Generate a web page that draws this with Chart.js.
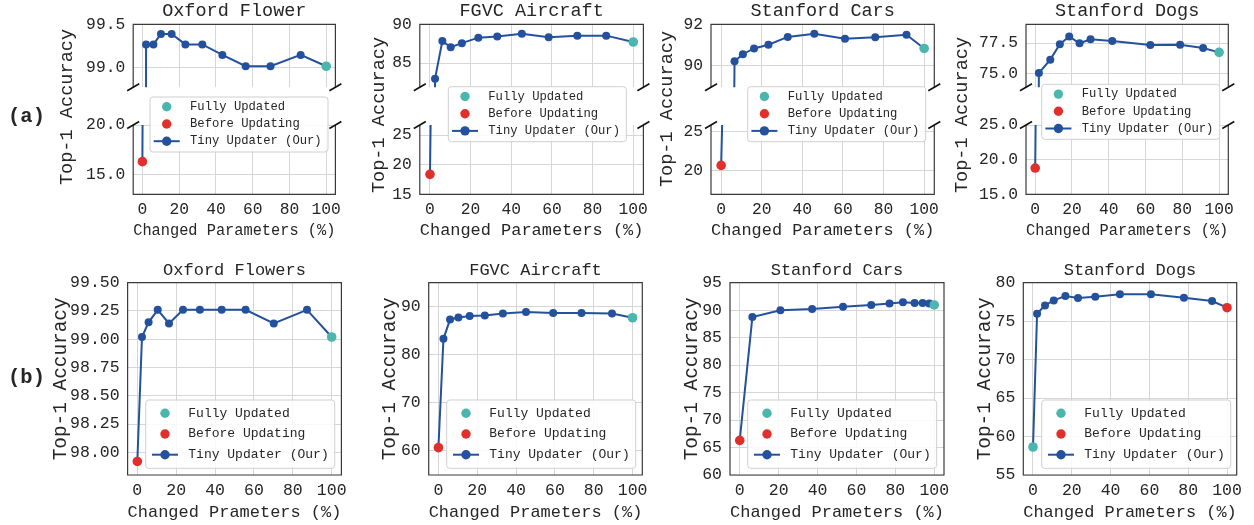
<!DOCTYPE html>
<html>
<head>
<meta charset="utf-8">
<script src="https://cdn.jsdelivr.net/npm/chart.js@4.4.1/dist/chart.umd.min.js"></script>
<style>
  html, body { margin: 0; padding: 0; background: #fff; }
  #fig { position: relative; width: 1254px; height: 525px; overflow: hidden; background: #fff; }
  #fig canvas { position: absolute; }
</style>
</head>
<body>
<div id="fig"></div>
<script>
// shared x ticks (changed parameters, %)
const xTicks = [0, 20, 40, 60, 80, 100];

// ---- row (a): broken y axis ----
const aFlowerX = [2.0, 6.0, 10.1, 15.9, 23.4, 32.6, 43.5, 56.2, 69.7, 86.1];
const aFlowerY = [99.27, 99.27, 99.39, 99.39, 99.27, 99.27, 99.15, 99.02, 99.02, 99.15];
const aFlowerFull = [100, 99.02];
const aFlowerBefore = [0, 16.3];
const aFlowerTopTicks = [99.0, 99.5];
const aFlowerBotTicks = [15.0, 20.0];

const aAirX = [2.5, 6.1, 10.2, 15.7, 23.8, 33.1, 45.2, 58.4, 72.5, 86.7];
const aAirY = [83.0, 87.84, 87.05, 87.57, 88.28, 88.43, 88.77, 88.32, 88.54, 88.54];
const aAirFull = [100, 87.72];
const aAirBefore = [0, 18.37];
const aAirTopTicks = [85, 90];
const aAirBotTicks = [15, 20, 25];

const aCarsX = [6.6, 10.7, 16.2, 23.3, 32.8, 45.9, 61.0, 75.9, 91.3];
const aCarsY = [90.21, 90.55, 90.83, 91.01, 91.39, 91.54, 91.30, 91.37, 91.49];
const aCarsFull = [100, 90.83];
const aCarsBefore = [0, 20.67];
const aCarsTopTicks = [90, 92];
const aCarsBotTicks = [20, 25];

const aDogsX = [2.0, 8.2, 13.4, 18.5, 24.1, 30.1, 41.9, 62.6, 78.8, 91.3];
const aDogsY = [75.02, 76.13, 77.40, 78.05, 77.48, 77.81, 77.67, 77.33, 77.36, 77.09];
const aDogsFull = [100, 76.73];
const aDogsBefore = [0, 18.79];
const aDogsTopTicks = [75.0, 77.5];
const aDogsBotTicks = [15.0, 20.0, 25.0];

// ---- row (b) ----
const bFlowerX = [2.4, 5.8, 10.5, 16.3, 23.5, 32.2, 43.4, 55.7, 70.2, 87.3];
const bFlowerY = [99.02, 99.15, 99.26, 99.14, 99.26, 99.26, 99.26, 99.26, 99.14, 99.26];
const bFlowerFull = [100, 99.02];
const bFlowerBefore = [0, 97.92];
const bFlowerTicks = [98.0, 98.25, 98.5, 98.75, 99.0, 99.25, 99.5];

const bAirX = [2.6, 6.0, 10.3, 16.1, 23.9, 33.2, 45.1, 59.1, 73.7, 89.4];
const bAirY = [83.33, 87.36, 87.78, 88.06, 88.19, 88.61, 88.89, 88.68, 88.68, 88.61];
const bAirFull = [100, 87.71];
const bAirBefore = [0, 60.69];
const bAirTicks = [60, 70, 80, 90];

const bCarsX = [6.5, 20.9, 37.2, 53.1, 67.6, 77.0, 83.9, 89.9, 94.0, 97.4];
const bCarsY = [88.75, 89.97, 90.21, 90.63, 90.92, 91.2, 91.45, 91.3, 91.3, 91.22];
const bCarsFull = [100, 90.95];
const bCarsBefore = [0, 66.3];
const bCarsTicks = [60, 65, 70, 75, 80, 85, 90, 95];

const bDogsX = [2.1, 6.2, 10.7, 16.7, 23.2, 32.1, 44.8, 60.8, 77.8, 92.3];
const bDogsY = [75.97, 77.05, 77.70, 78.27, 78.01, 78.18, 78.49, 78.49, 78.05, 77.62];
const bDogsFull = [0, 58.64];
const bDogsBefore = [100, 76.75];
const bDogsTicks = [55, 60, 65, 70, 75, 80];

const BLUE = '#24519d', CYAN = '#4bb6ae', RED = '#e1302b';
const GRID = '#d6d6d6', SPINE = '#3a3a3a', INK = '#262626';
const MONO = "'Liberation Mono', 'DejaVu Sans Mono', monospace";

Chart.defaults.font.family = MONO;
Chart.defaults.color = INK;

const fig = document.getElementById('fig');

function pt(a) { return { x: a[0], y: a[1] }; }

function drawLegend(chart, lg, ox, oy) {
  const ctx = chart.ctx;
  const x = lg.x - ox, y = lg.y - oy;
  ctx.save();
  ctx.beginPath();
  ctx.roundRect(x, y, lg.w, lg.h, 3);
  ctx.fillStyle = 'rgba(255,255,255,0.85)';
  ctx.fill();
  ctx.strokeStyle = '#cfcfcf';
  ctx.lineWidth = 1;
  ctx.stroke();
  ctx.font = lg.fs + 'px ' + MONO;
  ctx.textBaseline = 'middle';
  chart.data.datasets.forEach((ds, i) => {
    const cy = y + lg.first + i * lg.row, mx = x + lg.mx;
    if (ds.showLine !== false) {
      ctx.strokeStyle = ds.borderColor;
      ctx.lineWidth = 2;
      ctx.beginPath();
      ctx.moveTo(mx - 13, cy);
      ctx.lineTo(mx + 13, cy);
      ctx.stroke();
    }
    ctx.fillStyle = ds.pointBackgroundColor;
    ctx.beginPath();
    ctx.arc(mx, cy, 4.7, 0, Math.PI * 2);
    ctx.fill();
    ctx.fillStyle = INK;
    ctx.fillText(ds.label, x + lg.tx, cy);
  });
  ctx.restore();
}

// spines, break marks, legend and loose texts
function deco(p) {
  return {
    id: 'deco',
    afterDatasetsDraw(chart) {
      const { ctx, chartArea: a } = chart;
      ctx.save();
      ctx.strokeStyle = SPINE;
      ctx.lineWidth = 1.2;
      ctx.beginPath();
      if (p.spines === 'top') {
        ctx.moveTo(a.left, a.bottom); ctx.lineTo(a.left, a.top);
        ctx.lineTo(a.right, a.top); ctx.lineTo(a.right, a.bottom);
      } else if (p.spines === 'bottom') {
        ctx.moveTo(a.left, a.top); ctx.lineTo(a.left, a.bottom);
        ctx.lineTo(a.right, a.bottom); ctx.lineTo(a.right, a.top);
      } else {
        ctx.rect(a.left, a.top, a.right - a.left, a.bottom - a.top);
      }
      ctx.stroke();
      ctx.restore();
    },
    afterDraw(chart) {
      const { ctx, chartArea: a } = chart;
      ctx.save();
      if (p.breaks) {
        const yb = p.breaks === 'bottom' ? a.bottom : a.top;
        ctx.strokeStyle = '#111';
        ctx.lineWidth = 1.6;
        ctx.beginPath();
        [a.left, a.right].forEach(xb => {
          ctx.moveTo(xb - 6, yb + 3.5);
          ctx.lineTo(xb + 6, yb - 3.5);
        });
        ctx.stroke();
      }
      (p.texts || []).forEach(t => {
        ctx.save();
        ctx.fillStyle = INK;
        ctx.font = (t.weight || 'normal') + ' ' + t.size + 'px ' + MONO;
        ctx.textAlign = 'center';
        ctx.textBaseline = 'middle';
        ctx.translate(t.x - p.cx, t.y - p.cy);
        if (t.rotate) ctx.rotate(-Math.PI / 2);
        ctx.fillText(t.text, 0, 0);
        ctx.restore();
      });
      ctx.restore();
      if (p.legend) drawLegend(chart, p.legend, p.cx, p.cy);
    }
  };
}

function makeChart(p) {
  const cv = document.createElement('canvas');
  cv.width = p.cw; cv.height = p.ch;
  cv.style.left = p.cx + 'px'; cv.style.top = p.cy + 'px';
  cv.style.width = p.cw + 'px'; cv.style.height = p.ch + 'px';
  fig.appendChild(cv);

  const ml = p.L - p.cx, mr = p.cx + p.cw - p.R;
  const mt = p.T - p.cy, mb = p.cy + p.ch - p.B;

  const line = p.tinyX.map((x, i) => ({ x, y: p.tinyY[i] }))
    .concat([pt(p.full), pt(p.before)])
    .sort((a, b) => a.x - b.x);

  let title = { display: false };
  if (p.title) {
    const lh = p.titleSize * 1.2, padTop = p.titleY - p.cy - lh / 2;
    title = {
      display: true, text: p.title, fullSize: false, color: INK,
      font: { size: p.titleSize, weight: 'normal', lineHeight: 1.2 },
      padding: { top: padTop, bottom: mt - lh - padTop }
    };
  }

  return new Chart(cv, {
    type: 'line',
    data: {
      datasets: [
        { label: 'Fully Updated', data: [pt(p.full)], showLine: false, pointRadius: 4.8,
          pointBackgroundColor: CYAN, pointBorderWidth: 0, clip: 0 },
        { label: 'Before Updating', data: [pt(p.before)], showLine: false, pointRadius: 4.8,
          pointBackgroundColor: RED, pointBorderWidth: 0, clip: 0 },
        { label: 'Tiny Updater (Our)', data: line, borderColor: BLUE, borderWidth: 2,
          pointRadius: 4, pointBackgroundColor: BLUE, pointBorderWidth: 0, clip: 0 }
      ]
    },
    options: {
      responsive: false,
      animation: false,
      devicePixelRatio: 1,
      layout: { padding: { left: 0, right: mr, top: p.title ? 0 : mt, bottom: p.xTitle ? 0 : mb } },
      plugins: {
        legend: { display: false },
        tooltip: { enabled: false },
        title: title
      },
      scales: {
        x: {
          type: 'linear', min: -5, max: 105,
          afterBuildTicks: s => { s.ticks = xTicks.map(v => ({ value: v })); },
          afterFit: s => { s.height = p.xTitle ? mb : 0; },
          grid: { color: GRID, lineWidth: 1, drawTicks: false },
          border: { display: false },
          ticks: {
            display: !!p.xTitle, color: INK, maxRotation: 0, autoSkip: false,
            font: { size: p.tickSize, lineHeight: 1.2 },
            padding: p.xTitle ? p.xTickY - p.B - p.tickSize * 0.6 : 0
          },
          title: p.xTitle ? {
            display: true, text: p.xTitle, color: INK,
            font: { size: p.xTitleSize, lineHeight: 1.2 },
            padding: { top: 0, bottom: p.cy + p.ch - p.xTitleY - p.xTitleSize * 0.6 }
          } : { display: false }
        },
        y: {
          type: 'linear', min: p.yMin, max: p.yMax,
          afterBuildTicks: s => { s.ticks = p.yTicks.map(v => ({ value: v })); },
          afterFit: s => { s.width = ml; },
          grid: { color: GRID, lineWidth: 1, drawTicks: false },
          border: { display: false },
          ticks: {
            color: INK, padding: 8, autoSkip: false,
            font: { size: p.tickSize },
            callback: v => v.toFixed(p.dec)
          },
          title: p.yTitle ? {
            display: true, text: p.yTitle, color: INK,
            font: { size: p.yTitleSize, lineHeight: 1.2 },
            padding: { top: p.yTitleX - p.cx - p.yTitleSize * 0.6, bottom: 0 }
          } : { display: false }
        }
      }
    },
    plugins: [deco(p)]
  });
}

// one subplot of row (a): top and bottom panel with a break between them
function brokenPanel(s) {
  const common = {
    L: s.L, R: s.R, cx: s.cx, cw: Math.ceil(s.R + 14 - s.cx),
    tinyX: s.tinyX, tinyY: s.tinyY, full: s.full, before: s.before,
    tickSize: 16.3, dec: s.dec
  };
  makeChart(Object.assign({}, common, {
    cy: 0, ch: 105, T: 24.3, B: 96.7,
    yMin: s.top[0], yMax: s.top[1], yTicks: s.topTicks,
    title: s.title, titleSize: 18.5, titleY: 11.5,
    spines: 'top', breaks: 'bottom'
  }));
  const texts = [{ text: 'Top-1 Accuracy', x: s.yLab[0], y: s.yLab[1], size: 18.6, rotate: true }];
  if (s.tag) texts.push(s.tag);
  makeChart(Object.assign({}, common, {
    cy: 0, ch: 250, T: 125, B: 194.3,
    yMin: s.bot[0], yMax: s.bot[1], yTicks: s.botTicks,
    xTitle: 'Changed Parameters (%)', xTitleSize: 17.3, xTickY: 210, xTitleY: 230.5,
    spines: 'bottom', breaks: 'top', legend: s.legend, texts: texts
  }));
}

function plainPanel(s) {
  makeChart({
    L: s.L, R: s.R, cx: s.cx, cw: Math.ceil(s.R + 14 - s.cx),
    cy: 258, ch: 267, T: 282.7, B: 475,
    tinyX: s.tinyX, tinyY: s.tinyY, full: s.full, before: s.before,
    yMin: s.range[0], yMax: s.range[1], yTicks: s.ticks, dec: s.dec, tickSize: 16.5,
    title: s.title, titleSize: 17, titleY: 270.5,
    xTitle: 'Changed Prameters (%)', xTitleSize: 17, xTickY: 491, xTitleY: 512,
    yTitle: 'Top-1 Accuracy', yTitleSize: 19.4, yTitleX: s.yLabX,
    spines: 'all', legend: s.legend, texts: s.tag ? [s.tag] : []
  });
}

const legA = { w: 178, h: 55, fs: 12.2, mx: 16.7, tx: 40, first: 9.8, row: 17.2 };
const legB = { w: 189, h: 68.3, fs: 13, mx: 19.3, tx: 42.6, first: 13.3, row: 20.7 };

brokenPanel({ L: 133.2, R: 335.4, cx: 0, title: 'Oxford Flower', dec: 1,
  tinyX: aFlowerX, tinyY: aFlowerY, full: aFlowerFull, before: aFlowerBefore,
  top: [98.78, 99.5], topTicks: aFlowerTopTicks, bot: [13, 20], botTicks: aFlowerBotTicks,
  yLab: [67, 107], legend: Object.assign({ x: 150, y: 97 }, legA),
  tag: { text: '(a)', x: 26.5, y: 117, size: 20.5, weight: 'bold' } });

brokenPanel({ L: 419.8, R: 643.4, cx: 365, title: 'FGVC Aircraft', dec: 0,
  tinyX: aAirX, tinyY: aAirY, full: aAirFull, before: aAirBefore,
  top: [81.9, 90], topTicks: aAirTopTicks, bot: [15, 26.7], botTicks: aAirBotTicks,
  yLab: [379, 115], legend: Object.assign({ x: 448.3, y: 86.7 }, legA) });

brokenPanel({ L: 711, R: 934.3, cx: 653, title: 'Stanford Cars', dec: 0,
  tinyX: aCarsX, tinyY: aCarsY, full: aCarsFull, before: aCarsBefore,
  top: [88.95, 92], topTicks: aCarsTopTicks, bot: [17, 25.8], botTicks: aCarsBotTicks,
  yLab: [667.5, 109], legend: Object.assign({ x: 747.7, y: 86.7 }, legA) });

brokenPanel({ L: 1026, R: 1228.3, cx: 948, title: 'Stanford Dogs', dec: 1,
  tinyX: aDogsX, tinyY: aDogsY, full: aDogsFull, before: aDogsBefore,
  top: [73.85, 79.05], topTicks: aDogsTopTicks, bot: [15, 25], botTicks: aDogsBotTicks,
  yLab: [962.5, 115], legend: Object.assign({ x: 1041.7, y: 84.3 }, legA) });

plainPanel({ L: 127.6, R: 341.4, cx: 0, title: 'Oxford Flowers', dec: 2,
  tinyX: bFlowerX, tinyY: bFlowerY, full: bFlowerFull, before: bFlowerBefore,
  range: [97.8, 99.5], ticks: bFlowerTicks, yLabX: 61,
  legend: Object.assign({ x: 145.7, y: 400 }, legB),
  tag: { text: '(b)', x: 26.5, y: 378, size: 20.5, weight: 'bold' } });

plainPanel({ L: 428.7, R: 642.3, cx: 376, title: 'FGVC Aircraft', dec: 0,
  tinyX: bAirX, tinyY: bAirY, full: bAirFull, before: bAirBefore,
  range: [55, 95], ticks: bAirTicks, yLabX: 390,
  legend: Object.assign({ x: 446.7, y: 400 }, legB) });

plainPanel({ L: 730, R: 944, cx: 678, title: 'Stanford Cars', dec: 0,
  tinyX: bCarsX, tinyY: bCarsY, full: bCarsFull, before: bCarsBefore,
  range: [60, 95], ticks: bCarsTicks, yLabX: 691.5,
  legend: Object.assign({ x: 747.7, y: 400 }, legB) });

plainPanel({ L: 1023.3, R: 1236.7, cx: 971, title: 'Stanford Dogs', dec: 0,
  tinyX: bDogsX, tinyY: bDogsY, full: bDogsFull, before: bDogsBefore,
  range: [55, 80], ticks: bDogsTicks, yLabX: 985,
  legend: Object.assign({ x: 1041.7, y: 400 }, legB) });
</script>
</body>
</html>
